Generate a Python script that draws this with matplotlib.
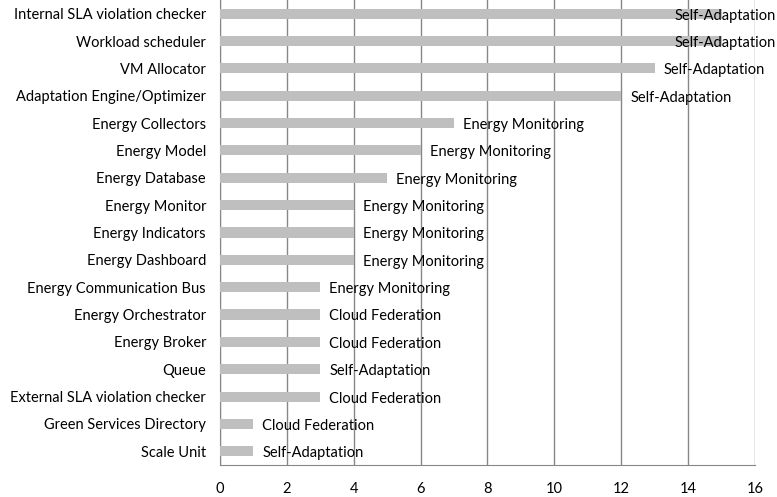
import matplotlib
matplotlib.use("Agg")
import matplotlib.pyplot as plt

components = ["Internal SLA violation checker", "Workload scheduler", "VM Allocator",
              "Adaptation Engine/Optimizer", "Energy Collectors", "Energy Model",
              "Energy Database", "Energy Monitor", "Energy Indicators", "Energy Dashboard",
              "Energy Communication Bus", "Energy Orchestrator", "Energy Broker", "Queue",
              "External SLA violation checker", "Green Services Directory", "Scale Unit"]
counts = [15, 15, 13, 12, 7, 6, 5, 4, 4, 4, 3, 3, 3, 3, 3, 1, 1]
groups = ["Self-Adaptation", "Self-Adaptation", "Self-Adaptation", "Self-Adaptation",
          "Energy Monitoring", "Energy Monitoring", "Energy Monitoring", "Energy Monitoring",
          "Energy Monitoring", "Energy Monitoring", "Energy Monitoring", "Cloud Federation",
          "Cloud Federation", "Self-Adaptation", "Cloud Federation", "Cloud Federation",
          "Self-Adaptation"]

plt.rcParams['font.family'] = ['Lato', 'DejaVu Sans']
plt.rcParams['font.size'] = 10.5

fig = plt.figure(figsize=(7.77, 4.97), dpi=100)
ax = fig.add_axes([0.2831, 0.0644, 0.6886, 0.9356])

ypos = list(range(len(components)))[::-1]
ax.barh(ypos, counts, height=0.37, color='#bfbfbf', zorder=3)

# labels sit just past the bar end, pushed back for the longest bars
for y, v, g in zip(ypos, counts, groups):
    ax.text(min(v + 0.27, 13.6), y - 0.07, g, va='center', ha='left', zorder=4, clip_on=False)

ax.set_xlim(0, 16)
ax.set_ylim(-0.5, len(components) - 0.5)
ax.set_xticks(range(0, 17, 2))
ax.set_yticks(ypos)
ax.set_yticklabels(components)
ax.grid(axis='x', color='#878787', linewidth=1, zorder=0)
for s in ['top', 'right']:
    ax.spines[s].set_visible(False)
for s in ['left', 'bottom']:
    ax.spines[s].set_color('#878787')
ax.tick_params(length=0)
ax.tick_params(axis='x', pad=12)
ax.tick_params(axis='y', pad=10)

fig.savefig("out.png", dpi=100)
